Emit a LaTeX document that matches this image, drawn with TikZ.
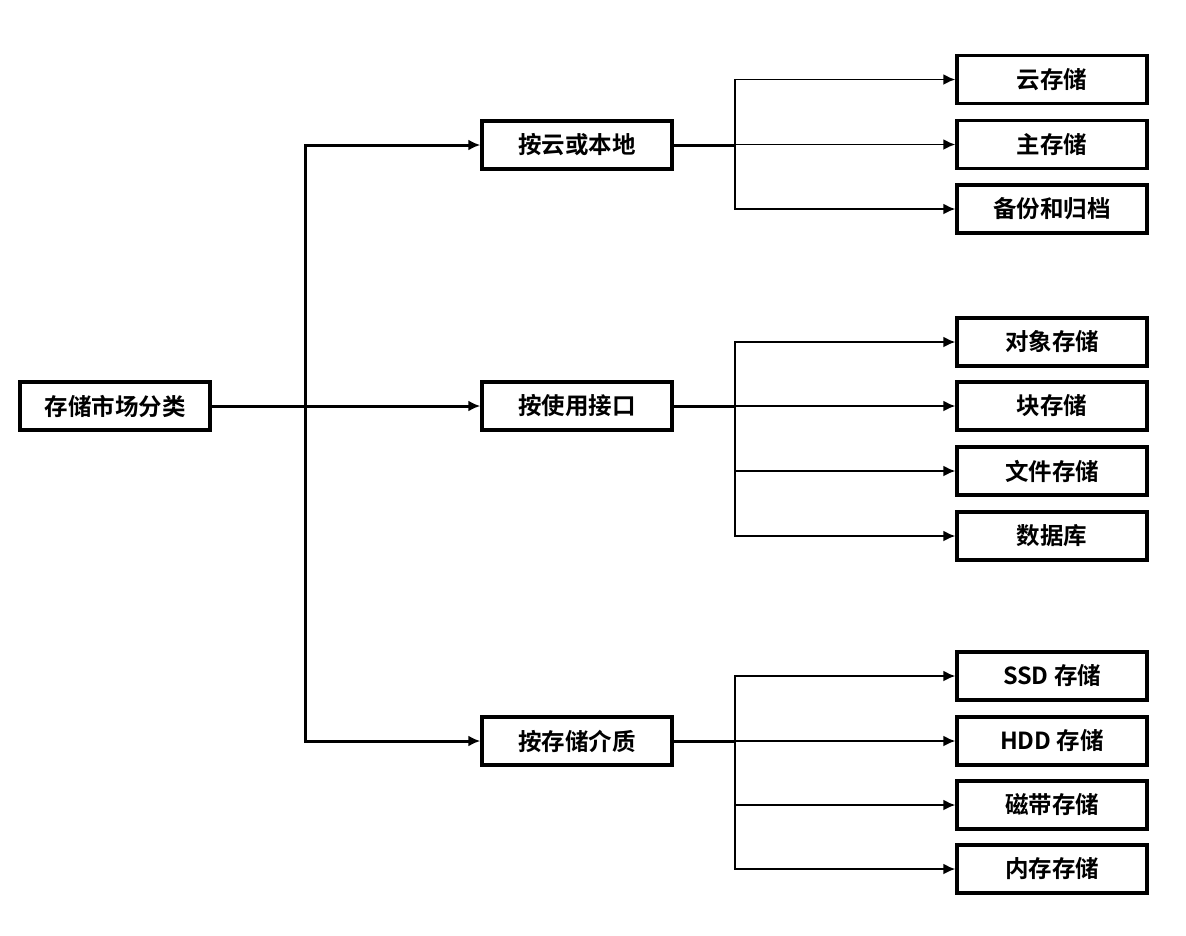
\documentclass[tikz,border=0pt]{standalone}
\usepackage{fontspec}
\setmainfont{Noto Sans CJK SC}[BoldFont={Noto Sans CJK SC Bold}]
\usetikzlibrary{arrows.meta}
\begin{document}
\begin{tikzpicture}[x=1pt,y=-1pt,
  box/.style={draw=black,line width=3.4pt,fill=white,minimum width=190pt,minimum height=48pt,inner sep=0pt,font=\fontsize{23.5}{26}\selectfont\bfseries},
  thick line/.style={line width=3pt},
  thin line/.style={line width=1.9pt},
  arr/.style={-{Latex[length=12pt,width=11pt]}}]
\useasboundingbox (0,0) rectangle (1186,935);
\node[box] (root) at (115,406) {存储市场分类};
\node[box] (m1) at (577,145) {按云或本地};
\node[box] (m2) at (577,406) {按使用接口};
\node[box] (m3) at (577,741) {按存储介质};
\node[box] (a1) at (1052,79.5) {云存储};
\node[box] (a2) at (1052,144.5) {主存储};
\node[box] (a3) at (1052,209) {备份和归档};
\node[box] (b1) at (1052,342) {对象存储};
\node[box] (b2) at (1052,406) {块存储};
\node[box] (b3) at (1052,471) {文件存储};
\node[box] (b4) at (1052,536) {数据库};
\node[box] (c1) at (1052,676) {SSD 存储};
\node[box] (c2) at (1052,741) {HDD 存储};
\node[box] (c3) at (1052,805) {磁带存储};
\node[box] (c4) at (1052,869) {内存存储};
\coordinate (t) at (305,406);
\coordinate (j1) at (735,145);
\coordinate (j2) at (735,406);
\coordinate (j3) at (735,741);
\draw[thick line] (root.east) -- (t);
\draw[thick line,arr] (t) |- (m1.west);
\draw[thick line,arr] (t) -- (m2.west);
\draw[thick line,arr] (t) |- (m3.west);
\draw[thick line] (m1.east) -- (j1);
\draw[thick line] (m2.east) -- (j2);
\draw[thick line] (m3.east) -- (j3);
\foreach \n in {a1,a2,a3} \draw[thin line,arr] (j1) |- (\n.west);
\foreach \n in {b1,b2,b3,b4} \draw[thin line,arr] (j2) |- (\n.west);
\foreach \n in {c1,c2,c3,c4} \draw[thin line,arr] (j3) |- (\n.west);
\end{tikzpicture}
\end{document}
